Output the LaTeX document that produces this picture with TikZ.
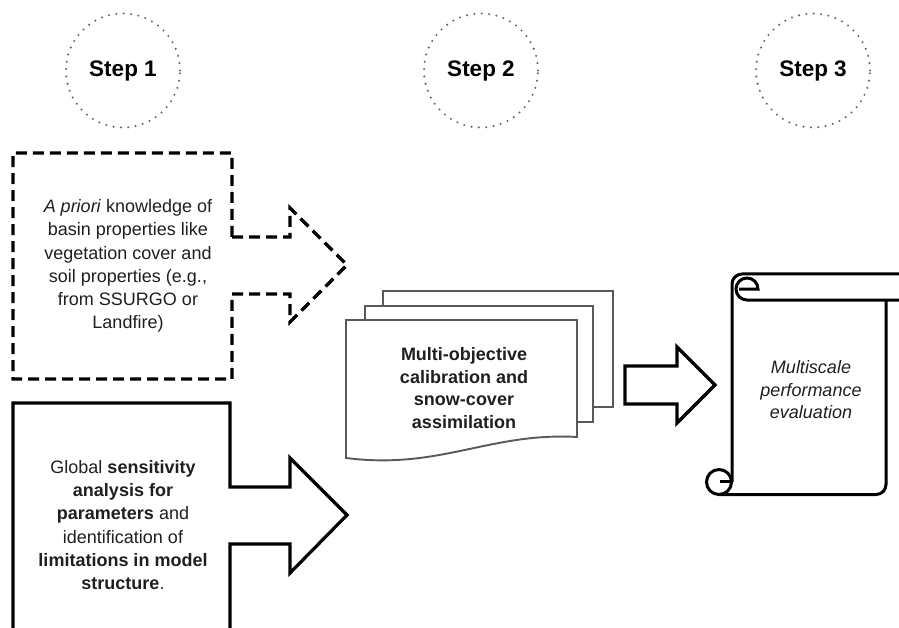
\documentclass[tikz,border=0pt]{standalone}
\usepackage{fontspec}
\setmainfont{Liberation Sans}
\begin{document}
\begin{tikzpicture}[x=1pt,y=-1pt,
  stepcircle/.style={circle, draw=black!60, line width=2.3pt, dash pattern=on 0pt off 7.4pt, line cap=round, minimum size=114pt, inner sep=0pt, font=\fontsize{22.5}{26}\selectfont\bfseries},
  txt/.style={align=center, inner sep=0pt, text=black!88, font=\fontsize{18}{23.2}\selectfont},
  dashedarrow/.style={draw=black, line width=3.2pt, dash pattern=on 11pt off 6pt, line join=miter},
  solidarrow/.style={draw=black, line width=3.2pt, line join=miter},
  page/.style={draw=black!65, line width=1.9pt, fill=white},
  scrollline/.style={draw=black, line width=3pt}
]
\useasboundingbox (0,0) rectangle (899,628);

% step circles
\node[stepcircle] (s1) at (123,70.5) {Step 1};
\node[stepcircle] (s2) at (481,70.5) {Step 2};
\node[stepcircle] (s3) at (813,70.5) {Step 3};

% step 1: dashed box with arrow
\draw[dashedarrow] (232,237) -- (290,237) -- (290,208) -- (347,265) -- (290,322) -- (290,294) -- (232,294) -- (232,379) -- (13,379) -- (13,153) -- (232,153) -- cycle;
\node[txt] (t1) at (128,266) {\textit{A priori} knowledge of\\basin properties like\\vegetation cover and\\soil properties (e.g.,\\from SSURGO or\\Landfire)};

% step 1: solid box with arrow (open at the bottom edge of the picture)
\draw[solidarrow] (13,632) -- (13,403) -- (230,403) -- (230,487) -- (290,487) -- (290,458) -- (347,515) -- (290,573) -- (290,544) -- (230,544) -- (230,632);
\node[txt] (t2) at (123,525) {Global \textbf{sensitivity}\\\textbf{analysis for}\\\textbf{parameters} and\\identification of\\\textbf{limitations in model}\\\textbf{structure}.};

% step 2: multi-document
\draw[page] (383,291) rectangle (613,407);
\draw[page] (365,306) rectangle (593,422);
\draw[page] (346,320) -- (577,320) -- (577,437) .. controls (490,432) and (440,470) .. (346,458) -- cycle;
\node[txt, font=\fontsize{18}{22.5}\selectfont\bfseries] (t3) at (464,388) {Multi-objective\\calibration and\\snow-cover\\assimilation};

% arrow step 2 -> step 3
\draw[solidarrow] (625,366) -- (677,366) -- (677,347) -- (715,385) -- (677,423) -- (677,404) -- (625,404) -- cycle;

% step 3: scroll
\draw[scrollline, rounded corners=10pt] (902,274) -- (732,274) -- (732,482);
\draw[scrollline] (902,300) -- (747,300) arc[start angle=90, end angle=360, radius=11] -- (739,289);
\draw[scrollline] (719,482) circle[radius=12.5];
\draw[scrollline] (720,481) -- (732,481);
\draw[scrollline, rounded corners=10pt] (719,494.5) -- (886,494.5) -- (886,300);
\node[txt, font=\fontsize{18}{22.5}\selectfont\itshape] (t4) at (811,390) {Multiscale\\performance\\evaluation};
\end{tikzpicture}
\end{document}
